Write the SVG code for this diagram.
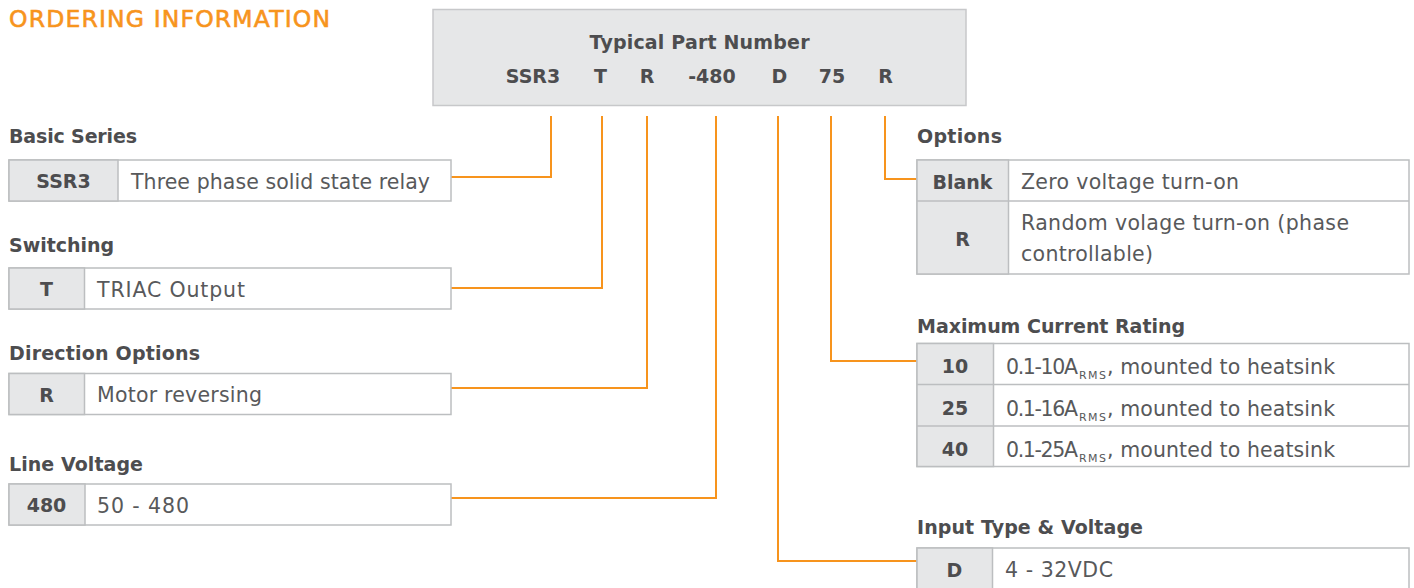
<svg xmlns="http://www.w3.org/2000/svg" width="1414" height="588" viewBox="0 0 1414 588">
<style>
text{font-family:"DejaVu Sans","Liberation Sans",sans-serif}
.title{font-size:23.5px;fill:#f7941d;stroke:#f7941d;stroke-width:0.6}
.h{font-size:19px;font-weight:bold;fill:#4d4d4f}
.k{font-size:19px;font-weight:bold;fill:#4d4d4f;text-anchor:middle}
.b{font-size:20.5px;fill:#58595b}
.sub{font-size:11px;fill:#58595b}
.box{fill:#ffffff;stroke:#bcbec0;stroke-width:1.5}
.key{fill:#e6e7e8;stroke:#bcbec0;stroke-width:1.5}
.hdr{fill:#e6e7e8;stroke:#c7c8ca;stroke-width:1.5}
.sep{stroke:#bcbec0;stroke-width:1.5}
.c{fill:none;stroke:#f7941d;stroke-width:2}
</style>
<rect width="1414" height="588" fill="#ffffff"/>
<text class="title" x="9" y="27" textLength="321">ORDERING INFORMATION</text>

<g id="part-number">
<rect class="hdr" x="433" y="9.5" width="533" height="96"/>
<text class="k" x="699.5" y="49" textLength="220">Typical Part Number</text>
<text class="k" x="533" y="83">SSR3</text>
<text class="k" x="600.5" y="83">T</text>
<text class="k" x="647" y="83">R</text>
<text class="k" x="712" y="83">-480</text>
<text class="k" x="779.5" y="83">D</text>
<text class="k" x="832" y="83">75</text>
<text class="k" x="885.5" y="83">R</text>
</g>

<g id="connectors">
<path class="c" d="M551,116 V177 H451"/>
<path class="c" d="M602,116 V288 H451"/>
<path class="c" d="M647,116 V388 H451"/>
<path class="c" d="M716,116 V498 H451"/>
<path class="c" d="M778,116 V561 H917"/>
<path class="c" d="M831,116 V361 H917"/>
<path class="c" d="M885,116 V179 H917"/>
</g>

<g id="basic-series">
<text class="h" x="9" y="143" textLength="128">Basic Series</text>
<rect class="box" x="9" y="160" width="442" height="41"/>
<rect class="key" x="9" y="160" width="109" height="41"/>
<text class="k" x="63.5" y="188">SSR3</text>
<text class="b" x="131" y="189" textLength="299">Three phase solid state relay</text>
</g>

<g id="switching">
<text class="h" x="9" y="252" textLength="105">Switching</text>
<rect class="box" x="9" y="268" width="442" height="41"/>
<rect class="key" x="9" y="268" width="75.5" height="41"/>
<text class="k" x="46.5" y="296">T</text>
<text class="b" x="97" y="297" textLength="148">TRIAC Output</text>
</g>

<g id="direction-options">
<text class="h" x="9" y="360" textLength="191">Direction Options</text>
<rect class="box" x="9" y="373.5" width="442" height="41"/>
<rect class="key" x="9" y="373.5" width="75.5" height="41"/>
<text class="k" x="46.5" y="401.5">R</text>
<text class="b" x="97" y="402" textLength="165">Motor reversing</text>
</g>

<g id="line-voltage">
<text class="h" x="9" y="471" textLength="134">Line Voltage</text>
<rect class="box" x="9" y="484" width="442" height="41"/>
<rect class="key" x="9" y="484" width="76" height="41"/>
<text class="k" x="46.5" y="512">480</text>
<text class="b" x="97" y="512.5" textLength="92">50 - 480</text>
</g>

<g id="options">
<text class="h" x="917" y="143" textLength="85">Options</text>
<rect class="box" x="917" y="160" width="492" height="114"/>
<rect class="key" x="917" y="160" width="91.5" height="114"/>
<line class="sep" x1="917" y1="201" x2="1409" y2="201"/>
<text class="k" x="962.5" y="188.5">Blank</text>
<text class="b" x="1021" y="189" textLength="218">Zero voltage turn-on</text>
<text class="k" x="962.5" y="246">R</text>
<text class="b" x="1021" y="230" textLength="328">Random volage turn-on (phase</text>
<text class="b" x="1021" y="261" textLength="132">controllable)</text>
</g>

<g id="max-current">
<text class="h" x="917" y="333" textLength="268">Maximum Current Rating</text>
<rect class="box" x="917" y="343.5" width="492" height="123"/>
<rect class="key" x="917" y="343.5" width="76.5" height="123"/>
<line class="sep" x1="917" y1="384.5" x2="1409" y2="384.5"/>
<line class="sep" x1="917" y1="426" x2="1409" y2="426"/>
<text class="k" x="955" y="373">10</text>
<text class="b" x="1006" y="374" textLength="72">0.1-10A</text>
<text class="sub" x="1079" y="379" textLength="27">RMS</text>
<text class="b" x="1107" y="374" textLength="228">, mounted to heatsink</text>
<text class="k" x="955" y="414.5">25</text>
<text class="b" x="1006" y="415.5" textLength="72">0.1-16A</text>
<text class="sub" x="1079" y="420.5" textLength="27">RMS</text>
<text class="b" x="1107" y="415.5" textLength="228">, mounted to heatsink</text>
<text class="k" x="955" y="455.5">40</text>
<text class="b" x="1006" y="456.5" textLength="72">0.1-25A</text>
<text class="sub" x="1079" y="461.5" textLength="27">RMS</text>
<text class="b" x="1107" y="456.5" textLength="228">, mounted to heatsink</text>
</g>

<g id="input-type">
<text class="h" x="917" y="534" textLength="226">Input Type &amp; Voltage</text>
<rect class="box" x="917" y="548" width="492" height="44"/>
<rect class="key" x="917" y="548" width="75.5" height="44"/>
<text class="k" x="954.5" y="576.5">D</text>
<text class="b" x="1005" y="577" textLength="108">4 - 32VDC</text>
</g>
</svg>
